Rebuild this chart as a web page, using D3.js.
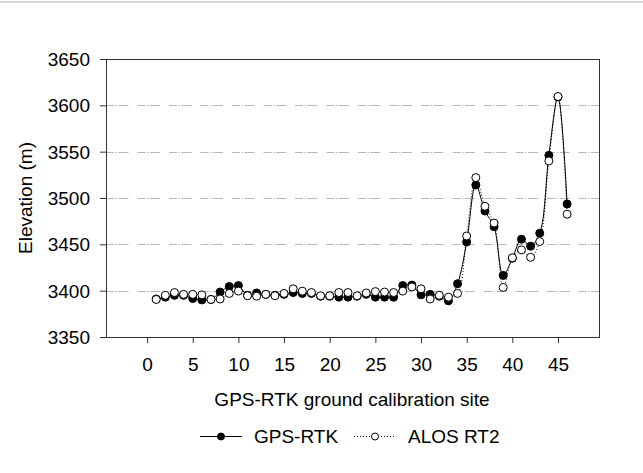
<!DOCTYPE html>
<html>
<head>
<meta charset="utf-8">
<script src="https://cdn.jsdelivr.net/npm/d3@7/dist/d3.min.js"></script>
<style>
  html, body { margin: 0; padding: 0; background: #fff; }
  svg { display: block; }
  text { font-family: "Liberation Sans", Arial, sans-serif; fill: #000; }
</style>
</head>
<body>
<svg id="chart" width="643" height="473"></svg>
<script>
// ---- data ----
const sites = d3.range(1, 47); // 1..46
const gpsRtk = [3391, 3393, 3395, 3395, 3391.5, 3390, 3390.5, 3398.5, 3404.5, 3405.5,
                3395, 3397.5, 3396, 3395, 3396, 3398, 3397, 3397, 3394, 3394,
                3393, 3393, 3394, 3396, 3393, 3393, 3393, 3405.5, 3406, 3395.5,
                3396, 3394, 3389, 3407.5, 3452.5, 3514, 3486, 3469, 3416.5, 3435,
                3455.5, 3448, 3462, 3546, 3609, 3493.5];
const alosRt2 = [3390.5, 3395, 3398, 3396, 3396, 3395.5, 3390.5, 3391, 3397, 3399.5,
                 3394.5, 3394, 3396, 3394.5, 3397, 3402, 3399.5, 3398, 3394.5, 3394.5,
                 3398, 3398, 3394.5, 3397.5, 3399, 3398.5, 3398, 3399.5, 3404, 3402,
                 3391, 3395, 3393, 3397, 3459, 3522, 3491, 3473, 3403.5, 3435.5,
                 3444, 3436, 3453, 3540, 3609.5, 3482.5];
const xTicks = [0, 5, 10, 15, 20, 25, 30, 35, 40, 45];
const yTicks = [3350, 3400, 3450, 3500, 3550, 3600, 3650];
const gridValues = [3400, 3450, 3500, 3550, 3600];
const seriesNames = ["GPS-RTK", "ALOS RT2"];
const xTitle = "GPS-RTK ground calibration site";
const yTitle = "Elevation (m)";

// ---- layout ----
const L = 106, R = 600, T = 59, B = 337;
const FS = 19;
const svg = d3.select("#chart");

// top light border
svg.append("rect").attr("x", 0).attr("y", 1).attr("width", 643).attr("height", 2).attr("fill", "#d9d9d9");

const x = d3.scaleLinear().domain([-4.5, 49.6]).range([L, R]);
const y = d3.scaleLinear().domain([3350, 3650]).range([B, T]);

// gridlines
svg.append("g").selectAll("line").data(gridValues).join("line")
  .attr("x1", L).attr("x2", R)
  .attr("y1", d => Math.round(y(d)) + 0.5).attr("y2", d => Math.round(y(d)) + 0.5)
  .attr("stroke", "#b8b8b8").attr("stroke-width", 1)
  .attr("stroke-dasharray", "8,1.5,1.5,1.5,10,9");

// axes
const xAxis = d3.axisBottom(x).tickValues(xTicks).tickFormat(d3.format("d")).tickSize(6).tickPadding(10).tickSizeOuter(0);
const yAxis = d3.axisLeft(y).tickValues(yTicks).tickFormat(d3.format("d")).tickSize(6).tickPadding(10).tickSizeOuter(0);

const gx = svg.append("g").attr("transform", `translate(0,${B})`).call(xAxis);
const gy = svg.append("g").attr("transform", `translate(${L},0)`).call(yAxis);
[gx, gy].forEach(g => {
  g.select(".domain").remove();
  g.selectAll(".tick line").attr("stroke", "#333");
  g.selectAll(".tick text").attr("font-size", FS).attr("font-family", "Liberation Sans, Arial, sans-serif").attr("fill", "#000");
});
gx.selectAll(".tick text").attr("dy", null).attr("y", 33.5);
gy.selectAll(".tick text").attr("dy", "0.35em");

// frame
svg.append("rect").attr("x", L + 0.5).attr("y", T + 0.5)
  .attr("width", R - L - 1).attr("height", B - T)
  .attr("fill", "none").attr("stroke", "#333").attr("stroke-width", 1);

// lines
const line = d3.line().x((d, i) => x(sites[i])).y(d => y(d)).curve(d3.curveCatmullRom);

svg.append("path").datum(gpsRtk).attr("d", line)
  .attr("fill", "none").attr("stroke", "#000").attr("stroke-width", 1);
svg.append("g").selectAll("circle").data(gpsRtk).join("circle")
  .attr("cx", (d, i) => x(sites[i])).attr("cy", d => y(d)).attr("r", 4)
  .attr("fill", "#000").attr("stroke", "#000").attr("stroke-width", 1);

svg.append("path").datum(alosRt2).attr("d", line)
  .attr("fill", "none").attr("stroke", "#000").attr("stroke-width", 1)
  .attr("stroke-dasharray", "1,2");
svg.append("g").selectAll("circle").data(alosRt2).join("circle")
  .attr("cx", (d, i) => x(sites[i])).attr("cy", d => y(d)).attr("r", 4)
  .attr("fill", "#fff").attr("stroke", "#000").attr("stroke-width", 1);

// axis titles
svg.append("text").attr("x", (L + R) / 2 - 1).attr("y", 406)
  .attr("text-anchor", "middle").attr("font-size", FS).text(xTitle);
svg.append("text").attr("transform", "translate(32,198) rotate(-90)")
  .attr("text-anchor", "middle").attr("font-size", FS).text(yTitle);

// legend
const legY = 436.5;
const leg = [
  { x1: 200, x2: 242, mx: 221, tx: 254, fill: "#000", dash: null, r: 3.5 },
  { x1: 354, x2: 396, mx: 375, tx: 408, fill: "#fff", dash: "1,2", r: 3.5 }
];
leg.forEach((l, i) => {
  svg.append("line").attr("x1", l.x1).attr("x2", l.x2).attr("y1", legY).attr("y2", legY)
    .attr("stroke", "#000").attr("stroke-width", 1).attr("stroke-dasharray", l.dash);
  svg.append("circle").attr("cx", l.mx).attr("cy", legY).attr("r", l.r)
    .attr("fill", l.fill).attr("stroke", "#000").attr("stroke-width", 1);
  svg.append("text").attr("x", l.tx).attr("y", 443).attr("font-size", FS).text(seriesNames[i]);
});
</script>
</body>
</html>
